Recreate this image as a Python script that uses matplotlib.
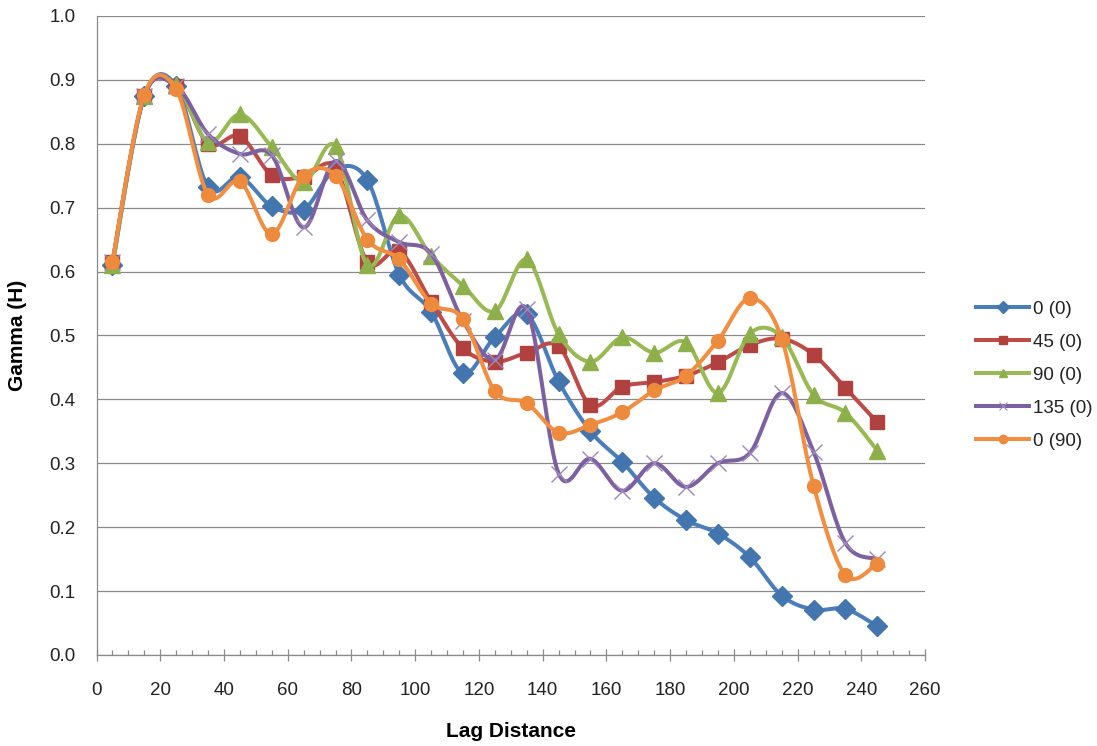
import numpy as np
import matplotlib
matplotlib.use("Agg")
import matplotlib.pyplot as plt
from matplotlib.lines import Line2D
from matplotlib.ticker import MultipleLocator, FormatStrFormatter

plt.rcParams['font.family'] = ['Liberation Sans', 'DejaVu Sans']

lag = [5, 15, 25, 35, 45, 55, 65, 75, 85, 95, 105, 115, 125,
       135, 145, 155, 165, 175, 185, 195, 205, 215, 225, 235, 245]

labels = ['0 (0)', '45 (0)', '90 (0)', '135 (0)', '0 (90)']

g_0_0 = [0.61, 0.875, 0.89, 0.732, 0.748, 0.702, 0.697, 0.76, 0.743, 0.595,
         0.537, 0.441, 0.498, 0.533, 0.428, 0.35, 0.302, 0.246, 0.211, 0.19,
         0.153, 0.093, 0.071, 0.072, 0.045]
g_45_0 = [0.615, 0.875, 0.89, 0.80, 0.812, 0.751, 0.748, 0.762, 0.615, 0.632,
          0.553, 0.48, 0.459, 0.473, 0.483, 0.391, 0.42, 0.427, 0.437, 0.458,
          0.485, 0.495, 0.47, 0.418, 0.364]
g_90_0 = [0.61, 0.875, 0.892, 0.803, 0.846, 0.795, 0.74, 0.796, 0.61, 0.688,
          0.625, 0.578, 0.538, 0.619, 0.502, 0.459, 0.497, 0.473, 0.489, 0.41,
          0.503, 0.498, 0.407, 0.379, 0.32]
g_135_0 = [0.615, 0.875, 0.89, 0.815, 0.784, 0.782, 0.669, 0.773, 0.68, 0.646,
           0.628, 0.523, 0.462, 0.541, 0.284, 0.307, 0.257, 0.30, 0.263, 0.30,
           0.316, 0.41, 0.318, 0.175, 0.15]
g_0_90 = [0.615, 0.877, 0.885, 0.72, 0.741, 0.659, 0.75, 0.75, 0.65, 0.619,
          0.55, 0.526, 0.413, 0.394, 0.348, 0.36, 0.38, 0.414, 0.437, 0.492,
          0.558, 0.495, 0.265, 0.125, 0.143]

series = [g_0_0, g_45_0, g_90_0, g_135_0, g_0_90]
colors = ['#4A7EBB', '#BE4B48', '#98B954', '#7D60A0', '#F28E3F']
marker_colors = ['#4375AE', '#B0413E', '#8DB04A', '#9C88BC', '#EE8A3C']
markers = ['D', 's', '^', 'x', 'o']
msizes = [10.5, 10, 12, 12, 10]


def smooth(x, y, n=20):
    # Excel-style smoothed line: Catmull-Rom bezier through each point
    x = np.asarray(x, float)
    y = np.asarray(y, float)
    px = np.concatenate([[x[0]], x, [x[-1]]])
    py = np.concatenate([[y[0]], y, [y[-1]]])
    t = np.linspace(0, 1, n)[:, None]
    xs, ys = [], []
    for i in range(1, len(px) - 2):
        p0 = np.array([px[i], py[i]])
        p3 = np.array([px[i + 1], py[i + 1]])
        c1 = p0 + (p3 - np.array([px[i - 1], py[i - 1]])) / 6
        c2 = p3 - (np.array([px[i + 2], py[i + 2]]) - p0) / 6
        b = ((1 - t) ** 3) * p0 + 3 * ((1 - t) ** 2) * t * c1 + \
            3 * (1 - t) * t ** 2 * c2 + t ** 3 * p3
        xs.append(b[:, 0])
        ys.append(b[:, 1])
    return np.concatenate(xs), np.concatenate(ys)


fig = plt.figure(figsize=(10.97, 7.46), dpi=100)
ax = fig.add_axes([0.088, 0.122, 0.7553, 0.8566])

for i, (vals, col) in enumerate(zip(series, colors)):
    sx, sy = smooth(lag, vals)
    ax.plot(sx, sy, color=col, lw=2.9, solid_capstyle='round', zorder=2 + i)
    if markers[i] == 'x':
        ax.plot(lag, vals, ls='none', marker='x', ms=msizes[i], mew=1.0,
                color=marker_colors[i], zorder=2 + i, clip_on=False)
    else:
        ax.plot(lag, vals, ls='none', marker=markers[i], ms=msizes[i],
                mfc=marker_colors[i], mec=marker_colors[i], zorder=2 + i,
                clip_on=False)

ax.set_xlim(0, 260)
ax.set_ylim(0, 1.0)
ax.xaxis.set_major_locator(MultipleLocator(20))
ax.xaxis.set_minor_locator(MultipleLocator(5))
ax.yaxis.set_major_locator(MultipleLocator(0.1))
ax.yaxis.set_major_formatter(FormatStrFormatter('%.1f'))

ax.yaxis.grid(True, color='#8A8A8A', lw=0.9)
ax.set_axisbelow(True)
for s in ['top', 'right']:
    ax.spines[s].set_visible(False)
for s in ['left', 'bottom']:
    ax.spines[s].set_color('#8A8A8A')
    ax.spines[s].set_linewidth(0.9)

ax.tick_params(axis='x', which='major', direction='inout', length=9,
               color='#8A8A8A', width=0.9, labelsize=13.5, pad=15,
               labelcolor='#222222')
ax.tick_params(axis='x', which='minor', direction='in', length=3.5,
               color='#8A8A8A', width=0.9)
ax.tick_params(axis='y', length=0, labelsize=13.5, pad=15,
               labelcolor='#222222')

ax.set_xlabel('Lag Distance', fontsize=15, fontweight='bold')
ax.xaxis.set_label_coords(0.5, -0.105)
ax.set_ylabel('Gamma (H)', fontsize=15, fontweight='bold')
ax.yaxis.set_label_coords(-0.0845, 0.5)

handles = []
for i in range(len(series)):
    if markers[i] == 'x':
        h = Line2D([], [], color=colors[i], lw=2.9, marker='x', ms=6, mew=0.8,
                   mec=marker_colors[i])
    else:
        h = Line2D([], [], color=colors[i], lw=2.9, marker=markers[i], ms=6,
                   mfc=marker_colors[i], mec=marker_colors[i])
    handles.append(h)

fig.legend(handles, labels, loc='center left', bbox_to_anchor=(0.89, 0.497),
           frameon=False, fontsize=13.5, labelcolor='#222222',
           handlelength=2.8, handletextpad=0.2,
           labelspacing=0.84, borderpad=0, borderaxespad=0)

fig.savefig('out.png', dpi=100)
